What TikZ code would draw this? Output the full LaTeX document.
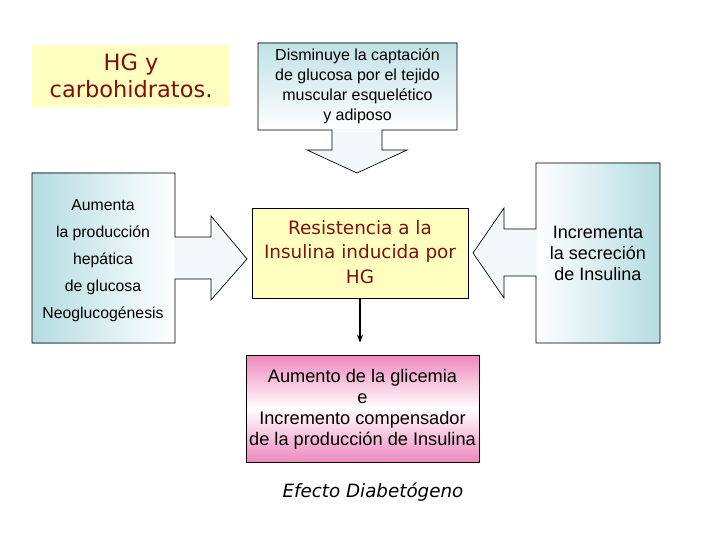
\documentclass[tikz,border=0pt]{standalone}
\usepackage{fontspec}
\setmainfont{Liberation Sans}
\newfontfamily\comicf{DejaVu Sans}
\usetikzlibrary{arrows.meta,calc}
\definecolor{pblue}{HTML}{B4DCE1}
\definecolor{lyel}{HTML}{FFFFC0}
\definecolor{dred}{HTML}{801010}
\definecolor{pinkc}{HTML}{EE88BC}
\definecolor{afill}{HTML}{F3F9FA}
\tikzset{
  txt/.style={align=center, inner sep=0pt, text=black},
  outl/.style={draw=black, line width=0.7pt, line join=miter},
}
\begin{document}
\begin{tikzpicture}[x=1pt,y=-1pt]
\useasboundingbox (0,0) rectangle (720,540);
\fill[white] (0,0) rectangle (720,540);

% title
\node[fill=lyel, minimum width=198pt, minimum height=62pt, inner sep=0pt] (title) at (131,76) {};
\node[align=center, text=dred, font=\comicf\fontsize{22.5}{27}\selectfont] (titletxt) at (131,76) {HG y\\carbohidratos.};

% top box with down block arrow
\node[top color=pblue!85, bottom color=white, minimum width=199pt, minimum height=87pt, inner sep=0pt] (top) at (357.5,86.5) {};
\fill[afill] (332,129) -- (382,129) -- (382,150) -- (407,150) -- (357,173) -- (307,150) -- (332,150) -- cycle;
\draw[outl] (258,43) -- (457,43) -- (457,130) -- (382,130) -- (382,150) -- (407,150) -- (357,173) -- (307,150) -- (332,150) -- (332,130) -- (258,130) -- cycle;
\node[txt, font=\fontsize{16}{20}\selectfont] (toptxt) at (357.5,86) {Disminuye la captación\\de glucosa por el tejido\\muscular esquelético\\y adiposo};

% left box with right block arrow
\node[left color=pblue, right color=white, minimum width=143pt, minimum height=170pt, inner sep=0pt] (left) at (103.5,258) {};
\fill[afill] (174,237) -- (211,237) -- (211,216) -- (247,259) -- (211,300) -- (211,279) -- (174,279) -- cycle;
\draw[outl] (32,173) -- (175,173) -- (175,237) -- (211,237) -- (211,216) -- (247,259) -- (211,300) -- (211,279) -- (175,279) -- (175,343) -- (32,343) -- cycle;
\node[txt, font=\fontsize{15.8}{27}\selectfont] (lefttxt) at (103,261) {Aumenta\\la producción\\hepática\\de glucosa\\Neoglucogénesis};

% right box with left block arrow
\node[left color=white, right color=pblue, minimum width=124pt, minimum height=180pt, inner sep=0pt] (right) at (598,253) {};
\fill[afill] (537,229) -- (504,229) -- (504,208) -- (473,253) -- (504,298) -- (504,276) -- (537,276) -- cycle;
\draw[outl] (536,163) -- (660,163) -- (660,343) -- (536,343) -- (536,276) -- (504,276) -- (504,298) -- (473,253) -- (504,208) -- (504,229) -- (536,229) -- cycle;
\node[txt, font=\fontsize{18}{21}\selectfont] (righttxt) at (598,253) {Incrementa\\la secreción\\de Insulina};

% centre box
\node[fill=lyel, outl, minimum width=216pt, minimum height=90pt, inner sep=0pt] (res) at (360,253) {};
\node[align=center, inner sep=0pt, text=dred, font=\comicf\fontsize{18.4}{24.5}\selectfont] (restxt) at (360,252) {Resistencia a la\\Insulina inducida por\\HG};

% pink box
\node[minimum width=233pt, minimum height=107pt, inner sep=0pt, top color=pinkc, bottom color=pinkc, middle color=white, outl] (aum) at (362.5,408.5) {};
\node[txt, font=\fontsize{18.2}{21}\selectfont] (aumtxt) at (362.5,409) {Aumento de la glicemia\\e\\Incremento compensador\\de la producción de Insulina};

% thin arrow
\draw[line width=1.3pt, -{Stealth[length=8pt,width=6pt]}] (res.south) -- ($(aum.north)+(-2.5,-12)$);

% caption
\node[inner sep=0pt, font=\comicf\itshape\fontsize{18.3}{20}\selectfont] (efecto) at (373,492) {Efecto Diabetógeno};
\end{tikzpicture}
\end{document}
